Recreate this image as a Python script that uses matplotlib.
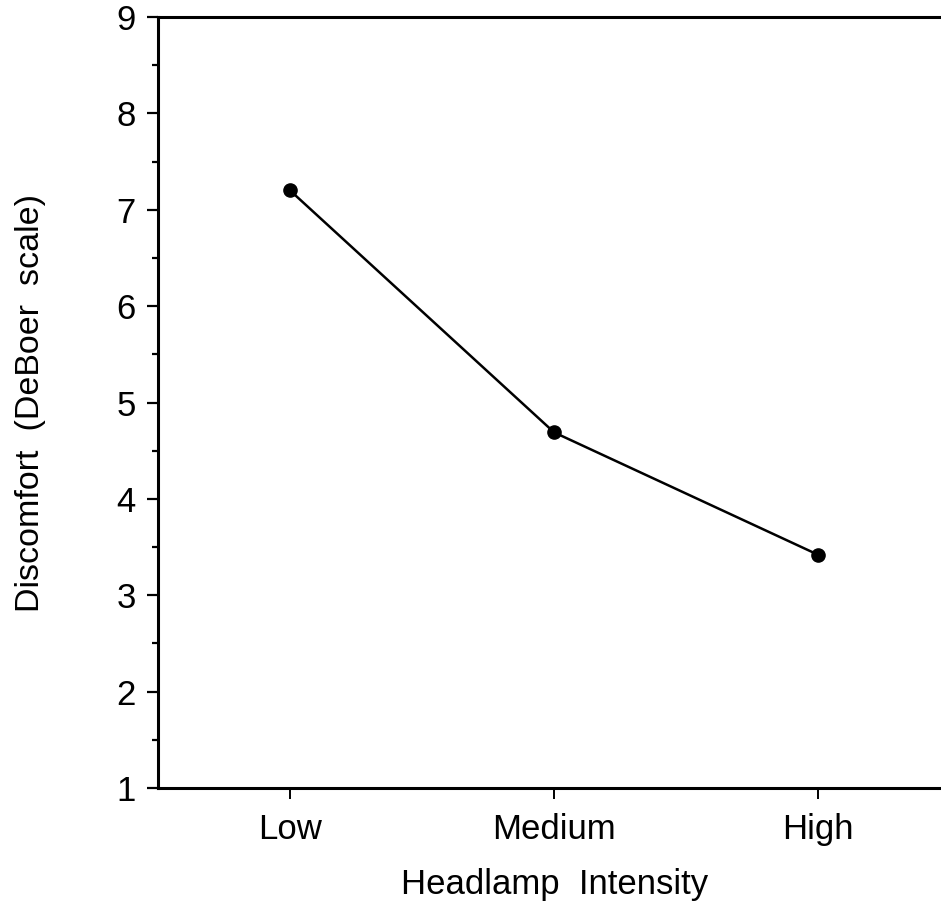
import matplotlib.pyplot as plt

# data
categories = ["Low", "Medium", "High"]
discomfort = [7.2, 4.69, 3.42]
y_ticks = [1, 2, 3, 4, 5, 6, 7, 8, 9]

plt.rcParams['font.family'] = ['Liberation Sans', 'DejaVu Sans']

fig = plt.figure(figsize=(9.41, 9.15), dpi=100)
ax = fig.add_axes([0.168, 0.1388, 0.8417, 0.8426])

x = list(range(len(categories)))
ax.plot(x, discomfort, color='black', linewidth=1.8, marker='o',
        markersize=9.5, markerfacecolor='black', markeredgecolor='black',
        clip_on=False)

ax.set_xlim(-0.5, 2.5)
ax.set_ylim(1, 9)
ax.set_xticks(x)
ax.set_xticklabels(categories)
ax.set_yticks(y_ticks)
ax.set_yticks([v + 0.5 for v in y_ticks[:-1]], minor=True)

for side in ['left', 'bottom', 'top']:
    ax.spines[side].set_linewidth(2.2)
ax.spines['right'].set_visible(False)

ax.tick_params(axis='y', which='major', direction='out', length=8,
               width=1.6, labelsize=25, pad=8)
ax.tick_params(axis='y', which='minor', direction='out', length=4.3,
               width=1.6)
ax.tick_params(axis='x', which='major', direction='out', length=8,
               width=1.4, labelsize=25, pad=10)

ax.set_xlabel("Headlamp  Intensity", fontsize=25, labelpad=16)
ax.set_ylabel("Discomfort  (DeBoer  scale)", fontsize=24.5, labelpad=51)

fig.savefig("out.png", dpi=100)
